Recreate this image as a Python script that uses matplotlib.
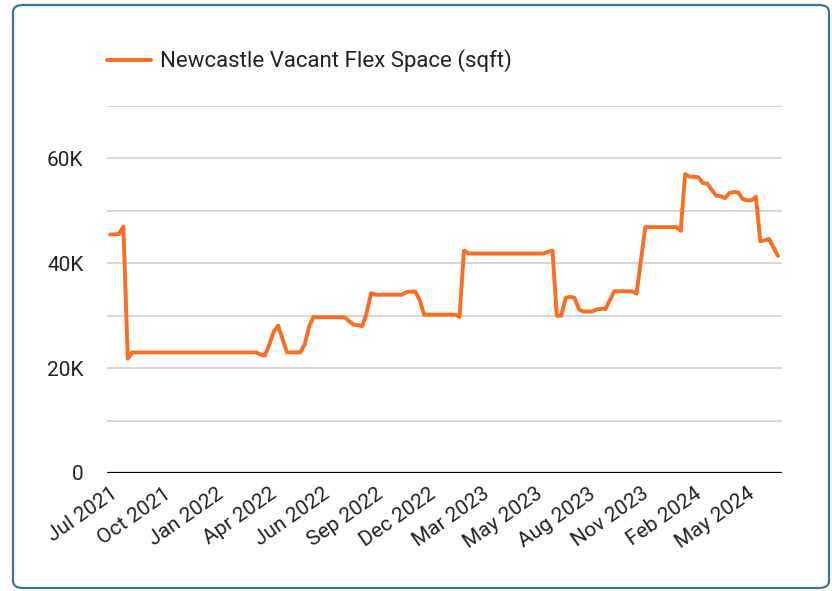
import datetime as dt

import matplotlib
matplotlib.use("Agg")
import matplotlib.pyplot as plt
from matplotlib.patches import FancyBboxPatch
from matplotlib.ticker import FuncFormatter, MultipleLocator

plt.rcParams["font.family"] = ["Roboto", "DejaVu Sans"]

# weekly readings, thousands of sqft, starting week of 28 Jul 2021
START = dt.date(2021, 7, 28)
vacant_k = [
    45.5, 45.5, 45.6, 47.0, 21.8, 23.0, 23.0, 23.0, 23.0, 23.0,
    23.0, 23.0, 23.0, 23.0, 23.0, 23.0, 23.0, 23.0, 23.0, 23.0,
    23.0, 23.0, 23.0, 23.0, 23.0, 23.0, 23.0, 23.0, 23.0, 23.0,
    23.0, 23.0, 23.0, 23.0, 22.6, 22.4, 24.5, 27.0, 28.1, 25.5,
    23.0, 23.0, 23.0, 23.0, 24.5, 28.0, 29.8, 29.7, 29.7, 29.7,
    29.7, 29.7, 29.7, 29.7, 29.0, 28.3, 28.2, 28.0, 30.5, 34.3,
    34.0, 34.0, 34.0, 34.0, 34.0, 34.0, 34.0, 34.5, 34.6, 34.6,
    33.0, 30.2, 30.2, 30.2, 30.2, 30.2, 30.2, 30.2, 30.2, 29.8,
    42.4, 41.9, 41.85, 41.85, 41.85, 41.85, 41.85, 41.85, 41.85, 41.85,
    41.85, 41.85, 41.85, 41.85, 41.85, 41.85, 41.85, 41.85, 41.85, 42.2,
    42.4, 30.0, 30.0, 33.4, 33.6, 33.4, 31.2, 30.8, 30.8, 30.8,
    31.2, 31.3, 31.3, 33.0, 34.7, 34.65, 34.65, 34.65, 34.65, 34.2,
    40.5, 46.9, 46.9, 46.9, 46.9, 46.9, 46.9, 46.9, 46.9, 46.2,
    57.0, 56.5, 56.5, 56.4, 55.3, 55.2, 54.0, 52.9, 52.8, 52.4,
    53.4, 53.6, 53.5, 52.3, 52.0, 52.0, 52.7, 44.2, 44.4, 44.6,
    43.0, 41.4,
]
LABEL_EVERY = 12

ORANGE = "#fb6d22"
TEXT = "#222222"


def main() -> None:
    n = len(vacant_k)
    weeks = [START + dt.timedelta(weeks=i) for i in range(n)]
    x = list(range(n))
    y = [v * 1000 for v in vacant_k]

    fig = plt.figure(figsize=(8.32, 5.91), dpi=100)
    ax = fig.add_axes([107 / 832, 1 - 473 / 591, 675 / 832, 367 / 591])

    line, = ax.plot(x, y, color=ORANGE, lw=2.8, solid_capstyle="round",
                    label="Newcastle Vacant Flex Space (sqft)", zorder=3)

    ax.set_ylim(0, 70000)
    ax.set_xlim(-0.7, n - 1 + 0.9)
    ax.yaxis.set_major_locator(MultipleLocator(20000))
    ax.yaxis.set_minor_locator(MultipleLocator(10000))
    ax.yaxis.set_major_formatter(FuncFormatter(lambda v, _: "0" if v == 0 else f"{v/1000:.0f}K"))
    ax.grid(axis="y", which="both", color="#cccccc", lw=1.1)
    ax.set_axisbelow(True)
    ax.axhline(0, color="black", lw=1.6, zorder=4)

    ticks = x[::LABEL_EVERY]
    ax.set_xticks(ticks)
    ax.set_xticklabels([weeks[i].strftime("%b %Y") for i in ticks],
                       rotation=35, ha="right", va="top", rotation_mode="anchor",
                       fontsize=15, color=TEXT)
    ax.tick_params(axis="x", length=0, pad=8)
    ax.tick_params(axis="y", which="both", length=0, pad=17, labelsize=15,
                   labelcolor=TEXT)
    for s in ax.spines.values():
        s.set_visible(False)

    fig.legend(handles=[line], loc="center left", bbox_to_anchor=(107 / 832, 1 - 61 / 591),
               frameon=False, fontsize=16, handlelength=2.0, handletextpad=0.4,
               borderpad=0, borderaxespad=0, labelcolor=TEXT)

    frame = FancyBboxPatch((13 / 832, 3 / 591), 816 / 832, 583 / 591,
                           boxstyle="round,pad=0,rounding_size=0.012",
                           transform=fig.transFigure, fill=False,
                           edgecolor="#3b7797", lw=1.6)
    fig.patches.append(frame)

    fig.savefig("out.png", dpi=100)
    plt.close(fig)


if __name__ == "__main__":
    main()
